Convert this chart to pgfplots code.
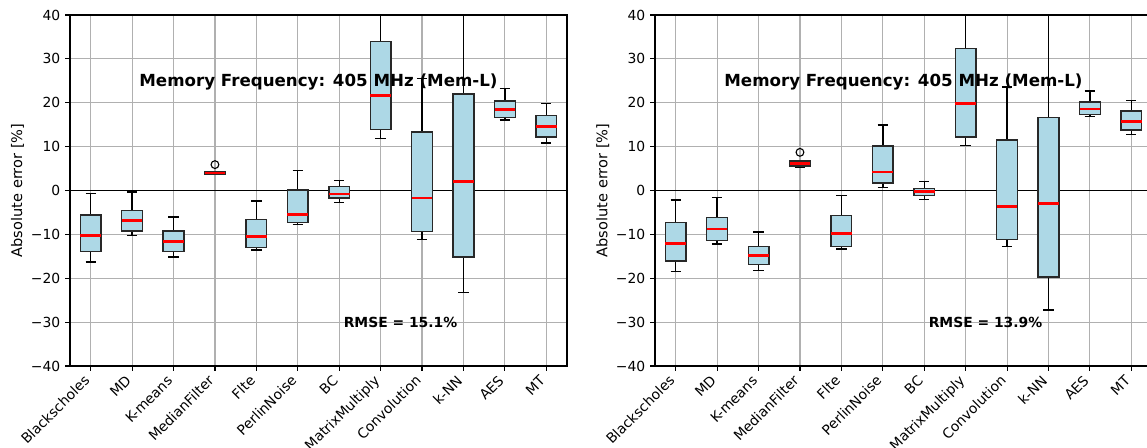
\documentclass[border=0pt]{standalone}
\usepackage{pgfplots}
\pgfplotsset{compat=1.18}
\usepgfplotslibrary{statistics}
\usepackage{fontspec}
\setmainfont{DejaVu Sans}
\definecolor{lightblue}{RGB}{173,216,230}
\definecolor{gridgray}{RGB}{176,176,176}
\definecolor{boxedge}{RGB}{40,40,40}

% position, lower whisker, lower quartile, median, upper quartile, upper whisker, outliers
\newcommand\bx[7]{%
  \addplot[mark=o, mark size=2.8pt, mark options={black, line width=0.8pt, fill=none},
    boxplot prepared={draw direction=y, draw position=#1, lower whisker=#2, lower quartile=#3,
      median=#4, upper quartile=#5, upper whisker=#6}] coordinates {#7};}

\pgfplotsset{
  myaxis/.style={
    anchor=south west, scale only axis,
    width=357.84pt, height=252.72pt,
    xmin=0.5, xmax=12.5, ymin=-40, ymax=40,
    xtick={1,2,3,4,5,6,7,8,9,10,11,12},
    xticklabels={Blackscholes,MD,K-means,MedianFilter,Flte,PerlinNoise,BC,MatrixMultiply,Convolution,k-NN,AES,MT},
    ytick={-40,-30,-20,-10,0,10,20,30,40},
    yticklabels={−40,−30,−20,−10,0,10,20,30,40},
    xtick pos=bottom, ytick pos=left,
    tick align=outside, major tick length=3.5pt,
    tick style={black, line width=0.8pt},
    axis line style={black, line width=0.8pt},
    grid=major, grid style={gridgray, line width=0.8pt},
    ticklabel style={font=\fontsize{10}{12}\selectfont},
    xticklabel style={xshift=-6.8pt, yshift=-1pt, rotate=45, anchor=north east,
      inner sep=0pt, text height=9.3pt, text depth=2.4pt},
    ylabel={Absolute error [\%]},
    ylabel style={font=\fontsize{10.5}{12}\selectfont, yshift=-2pt},
    boxplot/draw direction=y,
    boxplot/box extend=0.5,
    boxplot/whisker extend=0.25,
    boxplot/every box/.style={draw=boxedge, fill=lightblue, line width=1pt},
    boxplot/every whisker/.style={black, line width=1pt},
    boxplot/every median/.style={draw=red, line width=2pt},
  }
}

\begin{document}
\begin{tikzpicture}
\useasboundingbox (0,0) rectangle (825.84pt,322.56pt);

\begin{axis}[myaxis, at={(50.4pt,59.04pt)}]
\addplot[black, line width=0.8pt, forget plot] coordinates {(0.5,0) (12.5,0)};
\bx{1}{-16.3}{-13.9}{-10.2}{-5.6}{-0.7}{}
\bx{2}{-10.2}{-9.2}{-6.9}{-4.6}{-0.3}{}
\bx{3}{-15.2}{-13.9}{-11.7}{-9.2}{-6.0}{}
\bx{4}{3.8}{3.8}{4.0}{4.3}{4.3}{(4,5.9)}
\bx{5}{-13.6}{-13.0}{-10.4}{-6.6}{-2.4}{}
\bx{6}{-7.8}{-7.3}{-5.5}{0.1}{4.6}{}
\bx{7}{-2.7}{-1.7}{-0.8}{0.9}{2.3}{}
\bx{8}{11.9}{13.9}{21.6}{34.0}{46.0}{}
\bx{9}{-11.1}{-9.3}{-1.7}{13.3}{25.5}{}
\bx{10}{-23.3}{-15.2}{2.0}{22.0}{46.0}{}
\bx{11}{16.1}{16.7}{18.4}{20.4}{23.3}{}
\bx{12}{10.8}{12.2}{14.5}{17.1}{19.8}{}
\node[anchor=base, font=\bfseries\fontsize{12}{14}\selectfont] at (axis cs:6.5,23.7) {Memory Frequency: 405 MHz (Mem-L)};
\node[anchor=base, font=\bfseries\fontsize{10}{12}\selectfont] at (axis cs:8.48,-31.2) {RMSE = 15.1\%};
\end{axis}

\begin{axis}[myaxis, at={(471.6pt,59.04pt)}]
\addplot[black, line width=0.8pt, forget plot] coordinates {(0.5,0) (12.5,0)};
\bx{1}{-18.5}{-16.1}{-12.0}{-7.3}{-2.2}{}
\bx{2}{-12.2}{-11.4}{-8.8}{-6.2}{-1.6}{}
\bx{3}{-18.2}{-16.9}{-14.8}{-12.7}{-9.5}{}
\bx{4}{5.2}{5.6}{6.1}{6.7}{6.8}{(4,8.7)}
\bx{5}{-13.3}{-12.7}{-9.8}{-5.7}{-1.2}{}
\bx{6}{0.7}{1.7}{4.2}{10.1}{14.9}{}
\bx{7}{-2.0}{-1.2}{-0.2}{0.5}{2.1}{}
\bx{8}{10.2}{12.2}{19.9}{32.3}{46.0}{}
\bx{9}{-12.8}{-11.1}{-3.6}{11.5}{23.6}{}
\bx{10}{-27.2}{-19.7}{-3.0}{16.7}{46.0}{}
\bx{11}{16.9}{17.3}{18.6}{20.2}{22.7}{}
\bx{12}{12.7}{13.8}{15.8}{18.1}{20.5}{}
\node[anchor=base, font=\bfseries\fontsize{12}{14}\selectfont] at (axis cs:6.5,23.7) {Memory Frequency: 405 MHz (Mem-L)};
\node[anchor=base, font=\bfseries\fontsize{10}{12}\selectfont] at (axis cs:8.48,-31.2) {RMSE = 13.9\%};
\end{axis}
\end{tikzpicture}
\end{document}
